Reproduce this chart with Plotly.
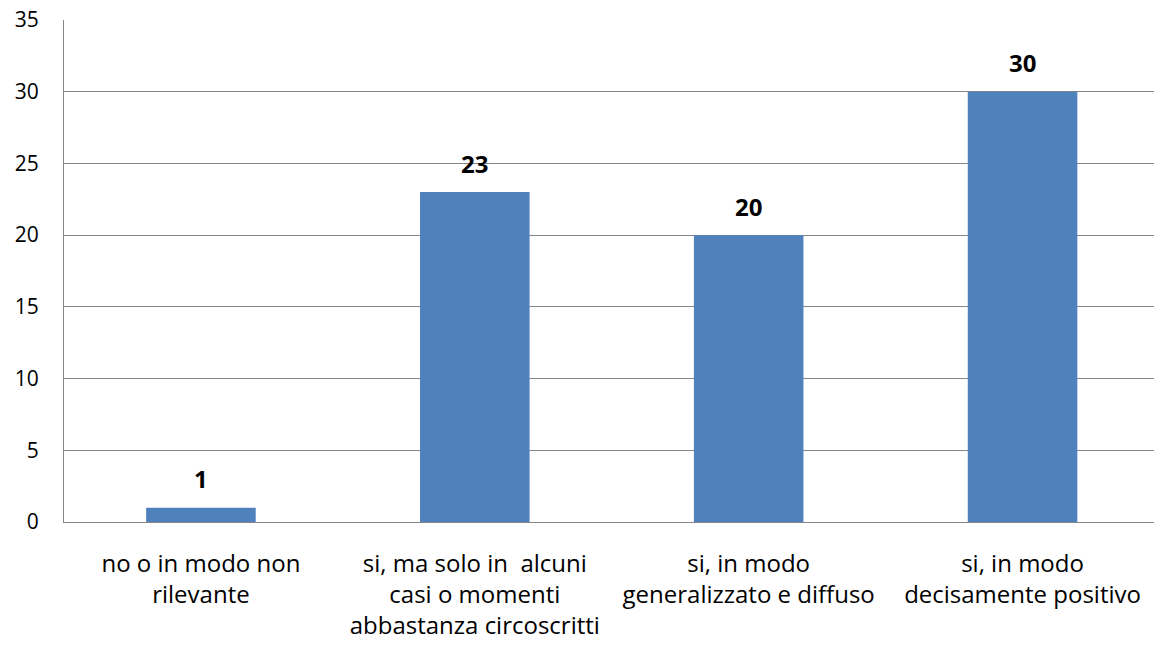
import plotly.graph_objects as go

# categories and the wrapped text shown under each bar
categories = ["no o in modo non rilevante",
              "si, ma solo in  alcuni casi o momenti abbastanza circoscritti",
              "si, in modo generalizzato e diffuso",
              "si, in modo decisamente positivo"]
tick_text = ["no o in modo non<br>rilevante",
             "si, ma solo in  alcuni<br>casi o momenti<br>abbastanza circoscritti",
             "si, in modo<br>generalizzato e diffuso",
             "si, in modo<br>decisamente positivo"]
values = [1, 23, 20, 30]
y_ticks = [0, 5, 10, 15, 20, 25, 30, 35]

FONT = "'Open Sans', Calibri, sans-serif"
BAR = "#4F81BD"
GRID = "#868686"

fig = go.Figure()
fig.add_trace(go.Bar(x=categories, y=values, marker_color=BAR,
                     marker_line_width=0, hoverinfo="x+y"))

# data labels above the bars
for c, v in zip(categories, values):
    fig.add_annotation(x=c, y=v, text=f"<b>{v}</b>", showarrow=False,
                       yanchor="middle", yshift=29,
                       font=dict(family=FONT, size=24, color="black"))

fig.update_layout(
    width=1154, height=645,
    margin=dict(l=64, r=0, t=20, b=123),
    plot_bgcolor="white", paper_bgcolor="white",
    bargap=0.6, showlegend=False,
    font=dict(family=FONT, size=21, color="black"),
    xaxis=dict(range=[-0.5, 3.48], tickvals=categories, ticktext=tick_text,
               showline=True, linecolor=GRID, linewidth=1, ticks="",
               showgrid=False, ticklabelstandoff=20,
               tickfont=dict(family=FONT, size=24, color="black")),
    yaxis=dict(range=[0, 35], tickvals=y_ticks, showgrid=True,
               gridcolor=GRID, gridwidth=1, showline=True, linecolor=GRID,
               linewidth=1, ticks="", ticklabelstandoff=20, zeroline=False,
               tickfont=dict(family=FONT, size=21, color="black")),
)

fig.write_html("out.html", config={"displayModeBar": False},
               post_script="document.body.style.margin='0';")
